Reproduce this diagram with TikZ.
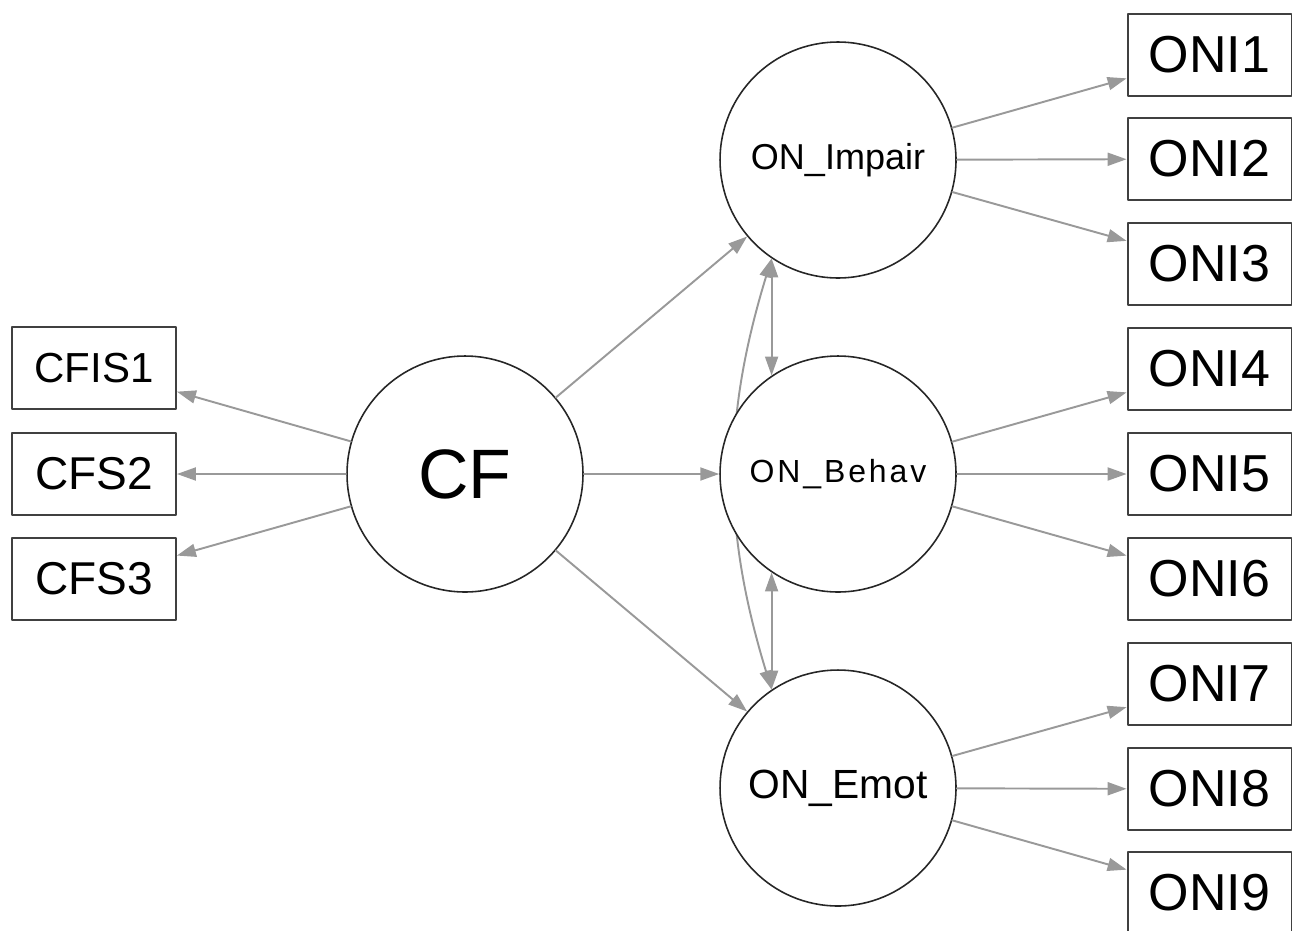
\documentclass[tikz,border=0pt]{standalone}
\usepackage{fontspec}
\setmainfont{Liberation Sans}
\usetikzlibrary{arrows.meta,backgrounds}

\tikzset{
  lat/.style={circle,draw=black!85,line width=0.9pt,fill=white,minimum size=134.3pt,inner sep=0pt},
  obs/.style={rectangle,draw=black!75,line width=1.1pt,fill=white,minimum width=93.3pt,minimum height=46.7pt,inner sep=0pt},
  arr/.style={draw=black!40,line width=1.1pt,-{Triangle[length=10.8pt,width=7.4pt]}},
  dbl/.style={draw=black!40,line width=1.1pt,{Triangle[length=10.8pt,width=7.4pt]}-{Triangle[length=10.8pt,width=7.4pt]}},
}

\begin{document}
\begin{tikzpicture}[x=0.02cm,y=-0.02cm,line cap=round,line join=round]
      \useasboundingbox (0,0) rectangle (1293,930);

      % latent variables
      \node[lat,font=\fontsize{39.8pt}{40pt}\selectfont] (cf) at (465,474) {CF};
      \node[lat,font=\fontsize{20.5pt}{21pt}\selectfont] (imp) at (838,160) {ON\_Impair};
      \node[lat,font=\fontsize{18.2pt}{19pt}\selectfont\addfontfeature{LetterSpace=9}] (beh) at (838,474) {ON\_Behav};
      \node[lat,font=\fontsize{23.2pt}{24pt}\selectfont] (emo) at (838,788) {ON\_Emot};

      % indicators of CF
      \node[obs,font=\fontsize{23.9pt}{24pt}\selectfont] (cfs1) at (94,368) {CFIS1};
      \node[obs,font=\fontsize{26.2pt}{27pt}\selectfont] (cfs2) at (94,474) {CFS2};
      \node[obs,font=\fontsize{26.2pt}{27pt}\selectfont] (cfs3) at (94,579) {CFS3};

      % indicators of ON
      \foreach \i/\y in {1/55,2/159,3/264,4/369,5/474,6/579,7/684,8/789,9/893}
        \node[obs,font=\fontsize{29.6pt}{30pt}\selectfont] (oni\i) at (1209.5,\y) {ONI\i};

      \draw[arr] (cf) -- (cfs1);
      \draw[arr] (cf) -- (cfs2);
      \draw[arr] (cf) -- (cfs3);
      \draw[arr] (cf) -- (imp);
      \draw[arr] (cf) -- (beh);
      \draw[arr] (cf) -- (emo);

      \foreach \i in {1,2,3} \draw[arr] (imp) -- (oni\i);
      \foreach \i in {4,5,6} \draw[arr] (beh) -- (oni\i);
      \foreach \i in {7,8,9} \draw[arr] (emo) -- (oni\i);

      % covariances
      \draw[dbl] (imp.-124) -- (beh.124);
      \draw[dbl] (beh.-124) -- (emo.124);
      \begin{pgfonlayer}{background}
        \draw[dbl] (imp.-124) to[bend right=17] (emo.124);
      \end{pgfonlayer}
\end{tikzpicture}
\end{document}
